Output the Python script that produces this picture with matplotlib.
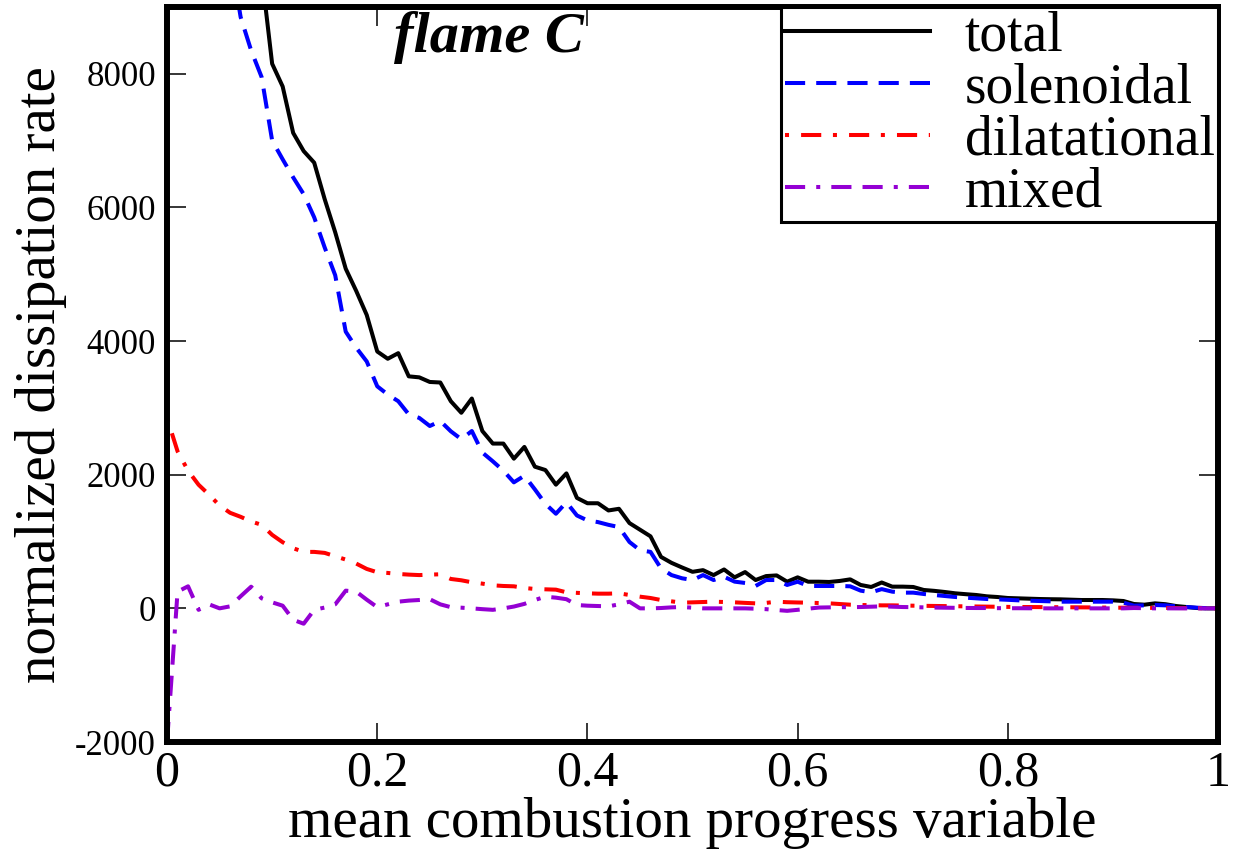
import numpy as np
import matplotlib
matplotlib.use("Agg")
import matplotlib.pyplot as plt

plt.rcParams['font.family'] = ['Liberation Serif', 'DejaVu Serif']
plt.rcParams['axes.unicode_minus'] = False

# mean combustion progress variable, 0.01 steps
c_mean = np.arange(101) / 100.0

total = [
    40000, 30000, 24000, 20000, 17000, 14500, 12500, 11200, 10200, 9500,
    8150, 7810, 7115, 6843, 6670, 6123, 5628, 5083, 4750, 4390,
    3844, 3735, 3819, 3472, 3457, 3388, 3380, 3100, 2927, 3140,
    2654, 2466, 2466, 2240, 2416, 2120, 2070, 1851, 2020, 1653,
    1573, 1573, 1465, 1490, 1276, 1177, 1078, 770, 681, 612,
    547, 572, 498, 582, 464, 543, 424, 483, 493, 399,
    464, 399, 399, 395, 410, 434, 350, 320, 387, 325,
    325, 320, 275, 262, 245, 225, 212, 200, 180, 170,
    155, 150, 145, 140, 137, 135, 130, 125, 125, 125,
    120, 110, 65, 55, 75, 62, 35, 20, 5, 0,
    0,
]

solenoidal = [
    35000, 26000, 21000, 17000, 14000, 11800, 9800, 8850, 8350, 7950,
    7000, 6720, 6450, 6198, 5852, 5400, 4985, 4141, 3900, 3695,
    3323, 3200, 3100, 2903, 2850, 2729, 2803, 2650, 2531, 2654,
    2332, 2200, 2060, 1886, 1985, 1780, 1564, 1416, 1588, 1390,
    1316, 1291, 1250, 1216, 993, 870, 845, 598, 498, 450,
    424, 498, 424, 473, 400, 380, 335, 424, 424, 350,
    399, 335, 335, 335, 335, 330, 265, 240, 288, 250,
    235, 235, 215, 200, 185, 170, 160, 150, 140, 135,
    128, 120, 115, 110, 105, 100, 100, 100, 100, 100,
    100, 85, 40, 45, 50, 45, 30, 20, 10, 2,
    0,
]

dilatational = [
    2850, 2350, 2060, 1850, 1700, 1539, 1430, 1370, 1300, 1250,
    1100, 990, 900, 845, 845, 830, 780, 730, 670, 590,
    540, 530, 515, 505, 498, 505, 510, 440, 420, 390,
    370, 345, 335, 330, 305, 290, 285, 280, 240, 232,
    225, 220, 220, 225, 200, 175, 155, 125, 105, 85,
    90, 95, 100, 95, 90, 82, 75, 82, 100, 92,
    88, 85, 80, 75, 65, 55, 50, 48, 45, 45,
    42, 40, 38, 36, 34, 32, 30, 28, 26, 24,
    22, 20, 20, 19, 18, 17, 16, 15, 14, 12,
    10, 10, 9, 8, 7, 6, 5, 4, 3, 2,
    0,
]

mixed = [
    -2000, 250, 330, -22, 60, 0, 30, 180, 324, 150,
    90, 40, -171, -230, -22, 12, 60, 265, 250, 130,
    18, 60, 100, 116, 125, 137, 60, 18, 10, 0,
    -12, -22, 0, 27, 67, 125, 175, 160, 137, 50,
    40, 35, 30, 60, 100, 0, 0, 5, 15, 20,
    10, 0, 0, 0, 0, 0, -5, -12, -25, -37,
    -22, -5, 12, 15, 18, 18, 20, 25, 30, 25,
    20, 18, 15, 12, 10, 8, 6, 5, 5, 3,
    2, 2, 1, 1, 0, 0, 0, 0, 0, 0,
    0, 0, 5, 3, 0, 0, 0, 0, 0, 0,
    0,
]

fig = plt.figure(figsize=(12.42, 8.59), dpi=100)
ax = fig.add_axes([0.1345, 0.1362, 0.9807 - 0.1345, 0.9919 - 0.1362])

lw = 2.9
ax.plot(c_mean, total, color='black', lw=lw, label='total')
ax.plot(c_mean, solenoidal, color='blue', lw=lw, label='solenoidal',
        dashes=(5, 2.75))
ax.plot(c_mean, dilatational, color='red', lw=lw, label='dilatational',
        dashes=(1, 3, 5, 2.9))
ax.plot(c_mean, mixed, color='darkviolet', lw=lw, label='mixed',
        dashes=(5, 2.75, 1, 2.75, 5, 2.75))

ax.set_xlim(0, 1)
ax.set_ylim(-2000, 9000)
ax.set_xticks([0, 0.2, 0.4, 0.6, 0.8, 1.0])
ax.set_xticklabels(['0', '0.2', '0.4', '0.6', '0.8', '1'])
ax.set_yticks([-2000, 0, 2000, 4000, 6000, 8000])
ax.set_yticklabels(['-2000', '0', '2000', '4000', '6000', '8000'])

ax.tick_params(direction='in', length=14, width=1.1, top=True, right=True)
ax.tick_params(axis='x', labelsize=36, pad=6)
ax.tick_params(axis='y', labelsize=25, pad=8)
for sp in ax.spines.values():
    sp.set_linewidth(4.3)

ax.set_xlabel('mean combustion progress variable', fontsize=41, labelpad=0)
ax.set_ylabel('normalized dissipation rate', fontsize=41, labelpad=6)

ax.text(0.306, 0.958, 'flame C', transform=ax.transAxes, fontsize=42,
        fontweight='bold', fontstyle='italic', ha='center', va='center')

leg = ax.legend(loc='upper right', fontsize=40, frameon=True, fancybox=False,
                borderaxespad=0, handlelength=2.62, handletextpad=0.62,
                labelspacing=0.0, borderpad=0.06)
leg.get_frame().set_edgecolor('black')
leg.get_frame().set_linewidth(2.2)
leg.get_frame().set_alpha(1)

fig.savefig('out.png', dpi=100)
